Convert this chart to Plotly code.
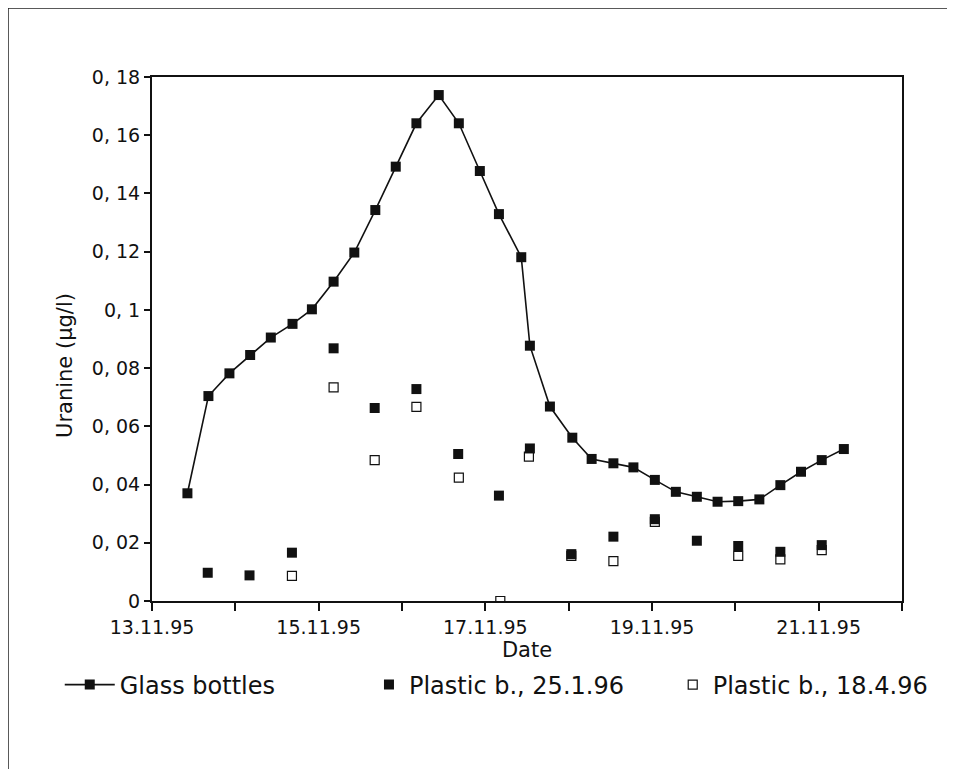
import plotly.graph_objects as go

# ---- data ----
glass_dates = ["1995-11-13 10:12", "1995-11-13 16:15", "1995-11-13 22:18", "1995-11-14 04:16",
               "1995-11-14 10:13", "1995-11-14 16:28", "1995-11-14 22:03", "1995-11-15 04:18",
               "1995-11-15 10:16", "1995-11-15 16:19", "1995-11-15 22:12", "1995-11-16 04:09",
               "1995-11-16 10:35", "1995-11-16 16:22", "1995-11-16 22:25", "1995-11-17 03:55",
               "1995-11-17 10:21", "1995-11-17 12:50", "1995-11-17 18:36", "1995-11-18 01:03",
               "1995-11-18 06:37", "1995-11-18 12:53", "1995-11-18 18:39", "1995-11-19 00:49",
               "1995-11-19 06:52", "1995-11-19 12:55", "1995-11-19 18:53", "1995-11-20 00:50",
               "1995-11-20 06:55", "1995-11-20 12:58", "1995-11-20 18:55", "1995-11-21 00:53",
               "1995-11-21 07:15"]
glass_values = [0.0370, 0.0704, 0.0782, 0.0845, 0.0905, 0.0952, 0.1002, 0.1097,
                0.1197, 0.1343, 0.1492, 0.1641, 0.1738, 0.1641, 0.1477, 0.1329,
                0.1181, 0.0877, 0.0668, 0.0561, 0.0488, 0.0473, 0.0459, 0.0416,
                0.0375, 0.0358, 0.0341, 0.0343, 0.0349, 0.0398, 0.0444, 0.0484,
                0.0522]

plastic1_dates = ["1995-11-13 16:03", "1995-11-14 04:05", "1995-11-14 16:18", "1995-11-15 04:18",
                  "1995-11-15 16:08", "1995-11-16 04:09", "1995-11-16 16:11", "1995-11-17 03:55",
                  "1995-11-17 12:50", "1995-11-18 00:46", "1995-11-18 12:53", "1995-11-19 00:49",
                  "1995-11-19 12:55", "1995-11-20 00:50", "1995-11-20 12:58", "1995-11-21 00:53"]
plastic1_values = [0.0097, 0.0088, 0.0166, 0.0868, 0.0663, 0.0728, 0.0505, 0.0362,
                   0.0524, 0.0161, 0.0221, 0.0281, 0.0207, 0.0189, 0.0169, 0.0192]

plastic2_dates = ["1995-11-14 16:18", "1995-11-15 04:18", "1995-11-15 16:08", "1995-11-16 04:09",
                  "1995-11-16 16:22", "1995-11-17 04:19", "1995-11-17 12:33", "1995-11-18 00:46",
                  "1995-11-18 12:53", "1995-11-19 00:49", "1995-11-20 00:50", "1995-11-20 12:58",
                  "1995-11-21 00:53"]
plastic2_values = [0.0086, 0.0734, 0.0484, 0.0667, 0.0424, 0.0000, 0.0496, 0.0155,
                   0.0137, 0.0272, 0.0155, 0.0143, 0.0175]

x_tickvals = ["1995-11-13", "1995-11-14", "1995-11-15", "1995-11-16", "1995-11-17",
              "1995-11-18", "1995-11-19", "1995-11-20", "1995-11-21", "1995-11-22"]
x_ticktext = ["13.11.95", "", "15.11.95", "", "17.11.95", "", "19.11.95", "", "21.11.95", ""]
y_tickvals = [0, 0.02, 0.04, 0.06, 0.08, 0.1, 0.12, 0.14, 0.16, 0.18]
y_ticktext = ["0", "0, 02", "0, 04", "0, 06", "0, 08", "0, 1", "0, 12", "0, 14", "0, 16", "0, 18"]

FONT = "DejaVu Sans"
INK = "#111111"

fig = go.Figure()
fig.add_trace(go.Scatter(
    x=glass_dates, y=glass_values, mode="lines+markers", name="Glass bottles",
    line=dict(color=INK, width=1.6),
    marker=dict(symbol="square", size=10, color=INK),
    legend="legend", showlegend=True))
fig.add_trace(go.Scatter(
    x=plastic2_dates, y=plastic2_values, mode="markers", name="Plastic b., 18.4.96",
    marker=dict(symbol="square-open", size=9, color=INK, line=dict(width=1.2, color=INK)),
    legend="legend3", showlegend=True))
fig.add_trace(go.Scatter(
    x=plastic1_dates, y=plastic1_values, mode="markers", name="Plastic b., 25.1.96",
    marker=dict(symbol="square", size=10, color=INK),
    legend="legend2", showlegend=True))

leg_common = dict(orientation="h", yanchor="middle", xanchor="left", y=-0.1603,
                  font=dict(family=FONT, size=24, color=INK), bgcolor="rgba(0,0,0,0)")
fig.update_layout(
    width=955, height=769,
    showlegend=True,
    margin=dict(l=144, r=61, t=69, b=176, autoexpand=False),
    paper_bgcolor="white", plot_bgcolor="white",
    font=dict(family=FONT, color=INK),
    legend=dict(x=-0.123, itemwidth=50, **leg_common),
    legend2=dict(x=0.2893, **leg_common),
    legend3=dict(x=0.6943, **leg_common),
    xaxis=dict(
        type="date", range=["1995-11-13", "1995-11-22"],
        tickmode="array", tickvals=x_tickvals, ticktext=x_ticktext,
        ticks="outside", ticklen=8, tickwidth=1.5, tickcolor=INK,
        showline=True, linecolor=INK, linewidth=2, mirror=True,
        showgrid=False, zeroline=False,
        tickfont=dict(family=FONT, size=19, color=INK),
        title=dict(text="Date", font=dict(family=FONT, size=21, color=INK), standoff=6),
    ),
    yaxis=dict(
        range=[0, 0.18],
        tickmode="array", tickvals=y_tickvals, ticktext=y_ticktext,
        ticks="outside", ticklen=6, tickwidth=1.5, tickcolor=INK,
        showline=True, linecolor=INK, linewidth=2, mirror=True,
        showgrid=False, zeroline=False,
        tickfont=dict(family=FONT, size=19, color=INK),
    ),
    annotations=[
        dict(text="Uranine (µg/l)", xref="paper", yref="paper", x=-0.116, y=0.4485,
             xanchor="center", yanchor="middle", textangle=-90, showarrow=False,
             font=dict(family=FONT, size=21, color=INK)),
    ],
    shapes=[
        dict(type="line", xref="paper", yref="paper", x0=-0.192, x1=1.2, y0=1.1317, y1=1.1317,
             line=dict(color="#222222", width=1.5)),
        dict(type="line", xref="paper", yref="paper", x0=-0.192, x1=-0.192, y0=1.1317, y1=-0.4,
             line=dict(color="#222222", width=1.5)),
    ],
)

fig.write_html("out.html")
